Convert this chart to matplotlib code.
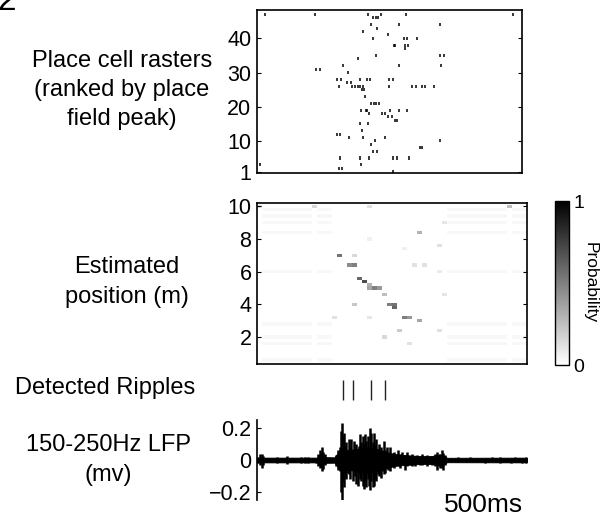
import numpy as np
import matplotlib
matplotlib.use("Agg")
import matplotlib.pyplot as plt

plt.rcParams['font.family'] = ['Liberation Sans', 'DejaVu Sans']

# spike times (ms) for each cell, cells ranked by place field peak
raster = {
    47: [32, 232, 445, 496, 596, 1025],
    46: [465, 475, 485],
    44: [455, 568, 732],
    43: [479],
    42: [425],
    41: [525],
    40: [463, 588, 600, 639],
    38: [546, 552, 592, 604],
    37: [593],
    35: [475, 732, 748],
    34: [403],
    32: [343, 568, 736],
    31: [236, 252],
    30: [363],
    28: [319, 335, 412, 439, 452, 528, 543],
    27: [359, 375],
    26: [329, 379, 392, 404, 412, 423, 528, 621, 635, 659, 672, 708],
    25: [420, 428],
    23: [432],
    21: [455, 468, 476, 488],
    19: [415, 436, 441, 532, 569, 601],
    18: [449, 499, 512],
    17: [525, 539],
    16: [552, 561],
    15: [412, 445],
    13: [420],
    12: [321, 332],
    11: [369, 425, 512],
    10: [472, 732],
    9: [455],
    8: [652, 659],
    7: [465, 481],
    5: [332, 412, 449, 543, 561, 608],
    3: [12, 415],
    2: [329, 340],
    1: [543],
}

# decoded posterior: (time ms, position m, probability)
peak_t = [320, 335, 360, 380, 396, 410, 430, 440, 445, 465, 482, 500, 520, 540, 558, 585, 602, 648,
          652, 396, 572, 315, 505, 603, 732, 732, 630, 660, 459, 236, 1019, 459, 452, 744, 735, 580, 740, 12]
peak_pos = [7.1, 7.1, 6.5, 6.4, 6.9, 5.6, 5.5, 5.3, 5.0, 4.9, 4.9, 4.6, 4.1, 3.95, 3.85, 3.3, 3.2, 3.0,
            8.5, 3.95, 2.4, 3.15, 1.95, 1.7, 7.6, 2.4, 6.4, 6.4, 10.0, 10.05, 10.1, 7.9, 3.3, 9.1, 6.0, 7.5, 4.6, 10.07]
peak_p = [0.55, 0.5, 0.45, 0.5, 0.15, 0.6, 0.7, 0.3, 0.35, 0.5, 0.4, 0.25, 0.5, 0.55, 0.6, 0.5, 0.4, 0.35,
          0.3, 0.22, 0.2, 0.12, 0.15, 0.12, 0.12, 0.12, 0.12, 0.12, 0.12, 0.15, 0.25, 0.06, 0.1, 0.1, 0.08, 0.06, 0.1, 0.12]
# faint background rows when there are no spikes
bg_pos = [9.74, 9.4, 8.93, 8.42, 5.98, 2.83, 1.92, 1.51, 0.70]
bg_spans = [(20, 230), (250, 300), (760, 1010), (1030, 1080)]
bg_level = 0.03

ripple_t = [344, 384, 456, 512]

# 150-250 Hz LFP: extent of each oscillation (ms, upper mV, lower mV)
lfp_t = [5, 12, 18, 25, 35, 50, 65, 80, 95, 110, 120, 130, 145, 160, 175, 190, 205, 220, 235, 245,
         252, 258, 264, 272, 282, 295, 305, 315, 322, 330, 335, 339, 343, 347, 352, 357, 362, 367, 372, 377,
         382, 387, 392, 397, 402, 407, 412, 417, 422, 427, 432, 437, 442, 447, 452, 457, 462, 467, 472, 477,
         482, 487, 492, 497, 502, 507, 512, 518, 525, 532, 540, 548, 556, 564, 572, 580, 590, 600, 610, 620,
         630, 640, 650, 660, 670, 680, 690, 700, 710, 720, 730, 738, 745, 752, 760, 775, 790, 805, 820, 835,
         850, 865, 880, 895, 910, 925, 940, 955, 970, 985, 1000, 1015, 1030, 1045, 1060, 1075, 1082]
lfp_hi = [0.02, 0.035, 0.04, 0.025, 0.015, 0.012, 0.015, 0.02, 0.01, 0.012, 0.028, 0.012, 0.01, 0.012, 0.018, 0.02, 0.016, 0.012, 0.015, 0.04,
          0.06, 0.08, 0.05, 0.035, 0.015, 0.012, 0.014, 0.03, 0.06, 0.08, 0.18, 0.23, 0.15, 0.17, 0.09, 0.11, 0.06, 0.13, 0.08, 0.13,
          0.06, 0.12, 0.05, 0.1, 0.06, 0.09, 0.16, 0.11, 0.15, 0.1, 0.16, 0.12, 0.15, 0.09, 0.2, 0.17, 0.11, 0.17, 0.1, 0.13,
          0.07, 0.1, 0.06, 0.08, 0.05, 0.12, 0.06, 0.08, 0.04, 0.08, 0.03, 0.05, 0.03, 0.06, 0.035, 0.05, 0.03, 0.05, 0.025, 0.04,
          0.025, 0.03, 0.02, 0.035, 0.02, 0.03, 0.02, 0.025, 0.04, 0.05, 0.04, 0.06, 0.045, 0.03, 0.01, 0.012, 0.01, 0.016, 0.01, 0.012,
          0.018, 0.01, 0.014, 0.01, 0.015, 0.01, 0.016, 0.012, 0.018, 0.01, 0.014, 0.012, 0.018, 0.01, 0.015, 0.02, 0.025]
lfp_lo = [-0.02, -0.03, -0.05, -0.03, -0.015, -0.012, -0.014, -0.018, -0.012, -0.01, -0.025, -0.012, -0.01, -0.012, -0.016, -0.018, -0.02, -0.012, -0.02, -0.035,
          -0.05, -0.07, -0.055, -0.03, -0.015, -0.012, -0.015, -0.04, -0.06, -0.07, -0.2, -0.25, -0.14, -0.17, -0.1, -0.12, -0.08, -0.09, -0.12, -0.06,
          -0.13, -0.07, -0.1, -0.15, -0.16, -0.08, -0.12, -0.13, -0.16, -0.18, -0.14, -0.17, -0.12, -0.16, -0.19, -0.13, -0.17, -0.16, -0.12, -0.13,
          -0.09, -0.1, -0.08, -0.11, -0.07, -0.09, -0.08, -0.05, -0.06, -0.07, -0.04, -0.05, -0.03, -0.04, -0.05, -0.03, -0.06, -0.04, -0.03, -0.04,
          -0.035, -0.025, -0.03, -0.03, -0.02, -0.035, -0.02, -0.03, -0.04, -0.06, -0.05, -0.05, -0.06, -0.03, -0.01, -0.01, -0.012, -0.014, -0.01, -0.015,
          -0.015, -0.01, -0.012, -0.01, -0.016, -0.01, -0.014, -0.012, -0.016, -0.012, -0.012, -0.016, -0.014, -0.012, -0.016, -0.02, -0.025]
# dense core of the trace (ms, half width mV)
core_t = [0, 240, 255, 270, 310, 330, 345, 360, 400, 450, 500, 530, 560, 600, 650, 700, 730, 750, 760, 1085]
core_w = [0.015, 0.015, 0.04, 0.018, 0.017, 0.06, 0.08, 0.06, 0.07, 0.08, 0.06, 0.045, 0.035, 0.03, 0.025, 0.025, 0.035, 0.025, 0.014, 0.015]

W, H = 604, 521
fig = plt.figure(figsize=(W / 100, H / 100), dpi=100)

def box(x0, y0, x1, y1):
    # pixel box -> figure fraction
    return [x0 / W, 1 - y1 / H, (x1 - x0) / W, (y1 - y0) / H]

def style(ax):
    ax.tick_params(direction='in', length=3, width=0.8, labelsize=15.5, right=True, pad=4)
    for s in ax.spines.values():
        s.set_linewidth(1.2)

t_max = 1080

# raster
ax1 = fig.add_axes(box(257, 10, 522, 173))
for cell, times in raster.items():
    ax1.vlines(times, cell - 0.45, cell + 0.45, color='k', lw=1.1)
ax1.set_xlim(0, 1060)
ax1.set_ylim(0.6, 48.3)
ax1.set_xticks([])
ax1.set_yticks([1, 10, 20, 30, 40])
style(ax1)

# decoded position
t_edges = np.arange(0, t_max + 20, 20)
pos_edges = np.arange(0.3, 10.31, 0.2)
P = np.zeros((len(pos_edges) - 1, len(t_edges) - 1))
for pos in bg_pos:
    r = int((pos - 0.3) // 0.2)
    for a, b in bg_spans:
        P[r, a // 20:b // 20] = bg_level
for t, pos, p in zip(peak_t, peak_pos, peak_p):
    r = min(int((pos - 0.3) // 0.2), P.shape[0] - 1)
    c = min(int(t // 20), P.shape[1] - 1)
    P[r, c] = max(P[r, c], p)

ax2 = fig.add_axes(box(257, 203, 527, 364))
mesh = ax2.pcolormesh(t_edges, pos_edges, P, cmap='gray_r', vmin=0, vmax=1)
ax2.set_xlim(0, t_max)
ax2.set_ylim(0.35, 10.2)
ax2.set_xticks([])
ax2.set_yticks([2, 4, 6, 8, 10])
style(ax2)

cax = fig.add_axes(box(555, 201, 569, 365))
cb = fig.colorbar(mesh, cax=cax, ticks=[0, 1])
cb.outline.set_linewidth(1.0)
cax.tick_params(length=0, labelsize=14, pad=3)
cax.text(2.5, 0.5, 'Probability', rotation=270, ha='center', va='center',
         fontsize=12.5, transform=cax.transAxes)

# detected ripples
ax3 = fig.add_axes(box(257, 378, 527, 402))
ax3.vlines(ripple_t, 0.08, 0.92, color='#222222', lw=1.0)
ax3.set_xlim(0, t_max)
ax3.set_ylim(0, 1)
ax3.axis('off')

# LFP
ax4 = fig.add_axes(box(257, 420, 527, 500))
ax4.fill_between(core_t, [-w for w in core_w], core_w, color='k', lw=0.6)
ax4.vlines(lfp_t, lfp_lo, lfp_hi, color='k', lw=1.8)
ax4.set_xlim(0, t_max)
ax4.set_ylim(-0.25, 0.25)
ax4.set_xticks([])
ax4.set_yticks([-0.2, 0, 0.2])
ax4.set_yticklabels(['\u22120.2', '0', '0.2'])
for s in ['top', 'right', 'bottom']:
    ax4.spines[s].set_visible(False)
ax4.spines['left'].set_linewidth(1.2)
ax4.tick_params(direction='in', length=3, width=0.8, labelsize=15.5, pad=4)

# row labels
fig.text(122 / W, 1 - 90 / H, 'Place cell rasters\n(ranked by place\nfield peak)',
         ha='center', va='center', fontsize=17, linespacing=1.4)
fig.text(127 / W, 1 - 282 / H, 'Estimated\nposition (m)', ha='center', va='center',
         fontsize=17, linespacing=1.45)
fig.text(105 / W, 1 - 388 / H, 'Detected Ripples', ha='center', va='center', fontsize=17)
fig.text(108 / W, 1 - 460 / H, '150-250Hz LFP\n(mv)', ha='center', va='center',
         fontsize=17, linespacing=1.5)
fig.text(484 / W, 1 - 505 / H, '500ms', ha='center', va='center', fontsize=19)
fig.text(-0.004, 1 - 10 / H, '2', ha='left', va='baseline', fontsize=24)

fig.savefig('out.png', dpi=100)
